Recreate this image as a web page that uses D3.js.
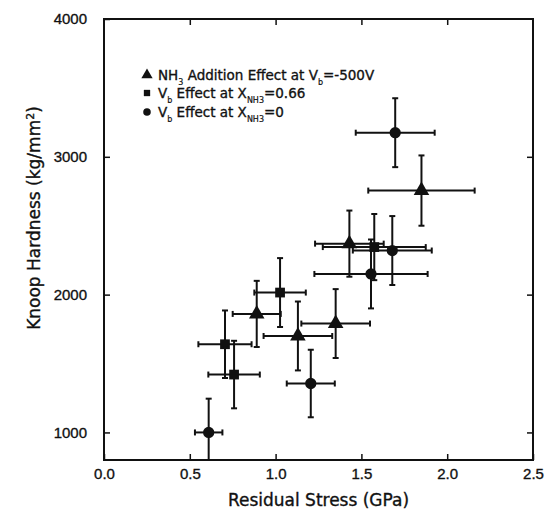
<!DOCTYPE html>
<html>
<head>
<meta charset="utf-8">
<script src="https://cdn.jsdelivr.net/npm/d3@7"></script>
<style>
  body { margin: 0; background: #fff; }
  svg { font-family: "DejaVu Sans", sans-serif; }
  text { fill: #111; stroke: #111; stroke-width: 0.35px; }
</style>
</head>
<body>
<svg id="chart" width="547" height="517"></svg>
<script>
// NH3 addition effect at Vb=-500V (triangles)
var triX = [0.89, 1.13, 1.35, 1.43, 1.85];
var triY = [1860, 1700, 1790, 2370, 2755];
var triXErr = [0.14, 0.20, 0.20, 0.20, 0.31];
var triYErr = [240, 250, 250, 240, 255];

// Vb effect at X_NH3=0.66 (squares)
var sqX = [0.705, 0.758, 1.026, 1.575];
var sqY = [1640, 1420, 2015, 2345];
var sqXErr = [0.155, 0.15, 0.15, 0.30];
var sqYErr = [245, 245, 250, 240];

// Vb effect at X_NH3=0 (circles)
var ciX = [0.61, 1.205, 1.556, 1.68, 1.697];
var ciY = [1000, 1355, 2150, 2320, 3175];
var ciXErr = [0.08, 0.14, 0.33, 0.23, 0.23];
var ciYErr = [245, 245, 250, 250, 250];

var xTicks = [0, 0.5, 1.0, 1.5, 2.0, 2.5];
var yTicks = [1000, 2000, 3000, 4000];

var svg = d3.select('#chart');
var margin = {left: 104, right: 14, top: 19, bottom: 57};
var width = 547, height = 517;

var xScale = d3.scaleLinear().domain([0, 2.5]).range([margin.left, width - margin.right]);
var yScale = d3.scaleLinear().domain([800, 4000]).range([height - margin.bottom, margin.top]);

function pack(xs, ys, xe, ye) {
    return xs.map(function(d, i) { return {x: d, y: ys[i], xe: xe[i], ye: ye[i]}; });
}
var series = [
    {shape: d3.symbolTriangle, size: 105, data: pack(triX, triY, triXErr, triYErr)},
    {shape: d3.symbolSquare, size: 95, data: pack(sqX, sqY, sqXErr, sqYErr)},
    {shape: d3.symbolCircle, size: 100, data: pack(ciX, ciY, ciXErr, ciYErr)}
];

var plot = svg.append('g');

// error bars
var cap = 3;
series.forEach(function(s) {
    var g = plot.append('g').attr('stroke', '#111').attr('stroke-width', 2).attr('fill', 'none');
    s.data.forEach(function(d) {
        var cx = xScale(d.x), cy = yScale(d.y);
        var x0 = xScale(d.x - d.xe), x1 = xScale(d.x + d.xe);
        var y0 = yScale(d.y - d.ye), y1 = yScale(d.y + d.ye);
        y0 = Math.min(y0, yScale(800));
        g.append('line').attr('x1', x0).attr('x2', x1).attr('y1', cy).attr('y2', cy);
        g.append('line').attr('x1', x0).attr('x2', x0).attr('y1', cy - cap).attr('y2', cy + cap);
        g.append('line').attr('x1', x1).attr('x2', x1).attr('y1', cy - cap).attr('y2', cy + cap);
        g.append('line').attr('x1', cx).attr('x2', cx).attr('y1', y0).attr('y2', y1);
        g.append('line').attr('x1', cx - cap).attr('x2', cx + cap).attr('y1', y1).attr('y2', y1);
        if (d.y - d.ye > 800)
            g.append('line').attr('x1', cx - cap).attr('x2', cx + cap).attr('y1', y0).attr('y2', y0);
    });
});

// markers
series.forEach(function(s) {
    plot.append('g').selectAll('path')
        .data(s.data)
        .enter()
        .append('path')
        .attr('d', d3.symbol().type(s.shape).size(s.size))
        .attr('transform', function(d) { return 'translate(' + xScale(d.x) + ',' + yScale(d.y) + ')'; })
        .attr('fill', '#111');
});

// frame and axes, ticks inward
var x0 = xScale(0), x1 = xScale(2.5), y0 = yScale(800), y1 = yScale(4000);
svg.append('rect').attr('x', x0).attr('y', y1).attr('width', x1 - x0).attr('height', y0 - y1)
    .attr('fill', 'none').attr('stroke', '#111').attr('stroke-width', 2);

function styleAxis(g) {
    g.select('.domain').remove();
    g.selectAll('.tick line').attr('stroke', '#111').attr('stroke-width', 1.5);
    g.selectAll('.tick text').attr('fill', '#111').style('font-size', '15px');
}

svg.append('g').attr('transform', 'translate(0,' + y0 + ')')
    .call(d3.axisBottom(xScale).tickValues(xTicks).tickFormat(d3.format('.1f')).tickSizeInner(-6).tickPadding(8))
    .call(styleAxis);
svg.append('g').attr('transform', 'translate(0,' + y1 + ')')
    .call(d3.axisTop(xScale).tickValues(xTicks.slice(1, 5)).tickSizeInner(-6).tickFormat(''))
    .call(styleAxis);
svg.append('g').attr('transform', 'translate(' + x0 + ',0)')
    .call(d3.axisLeft(yScale).tickValues(yTicks).tickFormat(d3.format('d')).tickSizeInner(-6).tickPadding(17))
    .call(styleAxis);
svg.append('g').attr('transform', 'translate(' + x1 + ',0)')
    .call(d3.axisRight(yScale).tickValues(yTicks.slice(0, 3)).tickSizeInner(-6).tickFormat(''))
    .call(styleAxis);

// axis titles
svg.append('text')
    .attr('x', (x0 + x1) / 2).attr('y', 506)
    .attr('text-anchor', 'middle').style('font-size', '17px')
    .text('Residual Stress (GPa)');

var yt = svg.append('text')
    .attr('transform', 'translate(40,218) rotate(-90)')
    .attr('text-anchor', 'middle').style('font-size', '17px');
yt.append('tspan').text('Knoop Hardness (kg/mm');
yt.append('tspan').attr('baseline-shift', 'super').style('font-size', '11px').text('2');
yt.append('tspan').text(')');

// legend
var legend = svg.append('g').style('font-size', '13.5px');
var legRows = [
    {shape: d3.symbolTriangle, size: 55, y: 80,
     parts: [['NH', 0], ['3', 1], [' Addition Effect at V', 0], ['b', 1], ['=-500V', 0]]},
    {shape: d3.symbolSquare, size: 40, y: 98,
     parts: [['V', 0], ['b', 1], [' Effect at X', 0], ['NH3', 1], ['=0.66', 0]]},
    {shape: d3.symbolCircle, size: 45, y: 117,
     parts: [['V', 0], ['b', 1], [' Effect at X', 0], ['NH3', 1], ['=0', 0]]}
];
legRows.forEach(function(r) {
    legend.append('path')
        .attr('d', d3.symbol().type(r.shape).size(r.size))
        .attr('transform', 'translate(147,' + (r.y - 5) + ')')
        .attr('fill', '#111');
    var t = legend.append('text').attr('x', 158).attr('y', r.y);
    r.parts.forEach(function(p) {
        var ts = t.append('tspan').text(p[0]);
        if (p[1]) ts.attr('baseline-shift', 'sub').style('font-size', '8px').style('stroke-width', '0.2px');
    });
});
</script>
</body>
</html>
